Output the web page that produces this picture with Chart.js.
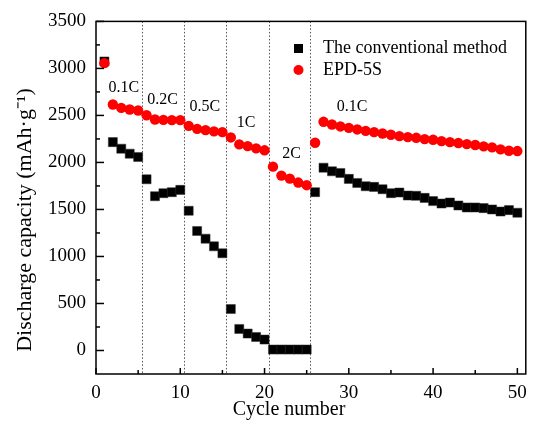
<!DOCTYPE html>
<html>
<head>
<meta charset="utf-8">
<script src="https://cdn.jsdelivr.net/npm/chart.js@4.4.1/dist/chart.umd.min.js"></script>
<style>
  html, body { margin: 0; padding: 0; background: #fff; }
  #wrap { width: 535px; height: 429px; }
</style>
</head>
<body>
<div id="wrap"><canvas id="rateChart" width="535" height="429"></canvas></div>
<script>
// ---- data ----
const cycles = [1,2,3,4,5,6,7,8,9,10,11,12,13,14,15,16,17,18,19,20,21,22,23,24,25,
  26,27,28,29,30,31,32,33,34,35,36,37,38,39,40,41,42,43,44,45,46,47,48,49,50];
const conventional = [3074,2216,2146,2093,2058,1821,1641,1673,1684,1708,
  1486,1271,1189,1108,1034,441,229,180,144,116,
  10,10,10,10,10,1684,1944,1906,1888,1825,
  1782,1747,1740,1715,1673,1680,1648,1645,1623,1589,
  1563,1574,1542,1521,1521,1514,1500,1478,1493,1465];
const epd5s = [3056,2616,2580,2563,2552,2502,2457,2453,2450,2450,
  2389,2357,2344,2330,2322,2266,2192,2174,2150,2129,
  1955,1860,1828,1786,1758,2209,2432,2404,2383,2368,
  2351,2336,2322,2308,2294,2280,2269,2262,2248,2241,
  2227,2216,2206,2195,2185,2171,2160,2139,2124,2121];
const seriesNames = ['The conventional method', 'EPD-5S'];

// tick labels
const xTicks = [0, 10, 20, 30, 40, 50];
const yTicks = [0, 500, 1000, 1500, 2000, 2500, 3000, 3500];

// rate steps: dotted dividers and their labels (data coordinates)
const rateBreaks = [5.4, 10.4, 15.4, 20.5, 25.4];
const rateLabels = ['0.1C', '0.2C', '0.5C', '1C', '2C', '0.1C'];
const rateLabelX = [3.3, 7.9, 12.9, 17.8, 23.2, 30.4];
const rateLabelY = [2790, 2670, 2590, 2420, 2090, 2590];

const SERIF = '"Liberation Serif", "Times New Roman", serif';

// frame, inward ticks, dividers, labels, legend, axis titles
const decorPlugin = {
  id: 'decor',
  beforeDatasetsDraw(chart) {
    const { ctx, chartArea: a, scales: { x } } = chart;
    ctx.save();
    ctx.strokeStyle = '#555';
    ctx.lineWidth = 1;
    ctx.setLineDash([1.5, 2]);
    rateBreaks.forEach(v => {
      const px = Math.round(x.getPixelForValue(v)) + 0.5;
      ctx.beginPath();
      ctx.moveTo(px, a.top);
      ctx.lineTo(px, a.bottom);
      ctx.stroke();
    });
    ctx.restore();
  },
  afterDraw(chart) {
    const { ctx, chartArea: a, scales: { x, y } } = chart;
    ctx.save();
    ctx.strokeStyle = '#000';
    ctx.lineWidth = 1.5;
    ctx.strokeRect(a.left, a.top, a.right - a.left, a.bottom - a.top);

    // inward ticks, minor ones halfway between labels
    yTicks.forEach((v, i) => {
      const py = y.getPixelForValue(v);
      ctx.beginPath(); ctx.moveTo(a.left, py); ctx.lineTo(a.left + 8, py); ctx.stroke();
      if (i < yTicks.length - 1) {
        const pm = y.getPixelForValue((v + yTicks[i + 1]) / 2);
        ctx.beginPath(); ctx.moveTo(a.left, pm); ctx.lineTo(a.left + 4, pm); ctx.stroke();
      }
    });
    xTicks.forEach((v, i) => {
      const px = x.getPixelForValue(v);
      ctx.beginPath(); ctx.moveTo(px, a.bottom); ctx.lineTo(px, a.bottom - 6); ctx.stroke();
      if (i < xTicks.length - 1) {
        const pm = x.getPixelForValue((v + xTicks[i + 1]) / 2);
        ctx.beginPath(); ctx.moveTo(pm, a.bottom); ctx.lineTo(pm, a.bottom - 4); ctx.stroke();
      }
    });

    // rate labels
    ctx.fillStyle = '#000';
    ctx.font = '16px ' + SERIF;
    ctx.textAlign = 'center';
    ctx.textBaseline = 'middle';
    rateLabels.forEach((t, i) => {
      ctx.fillText(t, x.getPixelForValue(rateLabelX[i]), y.getPixelForValue(rateLabelY[i]));
    });

    // legend
    ctx.fillStyle = '#000';
    ctx.fillRect(294, 44, 9, 9);
    ctx.fillStyle = '#ff0000';
    ctx.beginPath(); ctx.arc(298.5, 70, 5, 0, Math.PI * 2); ctx.fill();
    ctx.fillStyle = '#000';
    ctx.font = '18px ' + SERIF;
    ctx.textAlign = 'left';
    ctx.fillText(seriesNames[0], 323, 48);
    ctx.fillText(seriesNames[1], 323, 70);

    // axis titles
    ctx.font = '20px ' + SERIF;
    ctx.textAlign = 'center';
    ctx.fillText('Cycle number', 289, 410);
    ctx.font = '22px ' + SERIF;
    ctx.translate(25, 220);
    ctx.rotate(-Math.PI / 2);
    ctx.fillText('Discharge capacity (mAh\u00B7g\u207B\u00B9)', 0, 0);
    ctx.restore();
  }
};

new Chart(document.getElementById('rateChart'), {
  type: 'scatter',
  data: {
    datasets: [
      {
        label: seriesNames[0],
        data: cycles.map((c, i) => ({ x: c, y: conventional[i] })),
        order: 1,
        pointStyle: 'rect',
        pointRadius: 6.4,
        backgroundColor: '#000',
        borderColor: '#333',
        borderWidth: 0.5
      },
      {
        label: seriesNames[1],
        data: cycles.map((c, i) => ({ x: c, y: epd5s[i] })),
        order: 0,
        pointStyle: 'circle',
        pointRadius: 5.2,
        backgroundColor: '#ff0000',
        borderColor: '#ff0000',
        borderWidth: 0
      }
    ]
  },
  options: {
    responsive: false,
    animation: false,
    layout: { padding: { top: 20, right: 4, left: 0, bottom: 0 } },
    plugins: { legend: { display: false }, tooltip: { enabled: false } },
    scales: {
      x: {
        type: 'linear',
        min: 0, max: 51,
        afterFit(s) { s.height = 55; },
        afterBuildTicks(s) { s.ticks = xTicks.map(v => ({ value: v })); },
        grid: { display: false, drawTicks: false },
        border: { display: false },
        ticks: {
          padding: 8, color: '#000', maxRotation: 0,
          font: { family: SERIF, size: 19 },
          callback: v => String(v)
        }
      },
      y: {
        type: 'linear',
        min: -250, max: 3500,
        afterFit(s) { s.width = 96; },
        afterBuildTicks(s) { s.ticks = yTicks.map(v => ({ value: v })); },
        grid: { display: false, drawTicks: false },
        border: { display: false },
        ticks: {
          padding: 10, color: '#000',
          font: { family: SERIF, size: 19 },
          callback: v => String(v)
        }
      }
    }
  },
  plugins: [decorPlugin]
});
</script>
</body>
</html>
